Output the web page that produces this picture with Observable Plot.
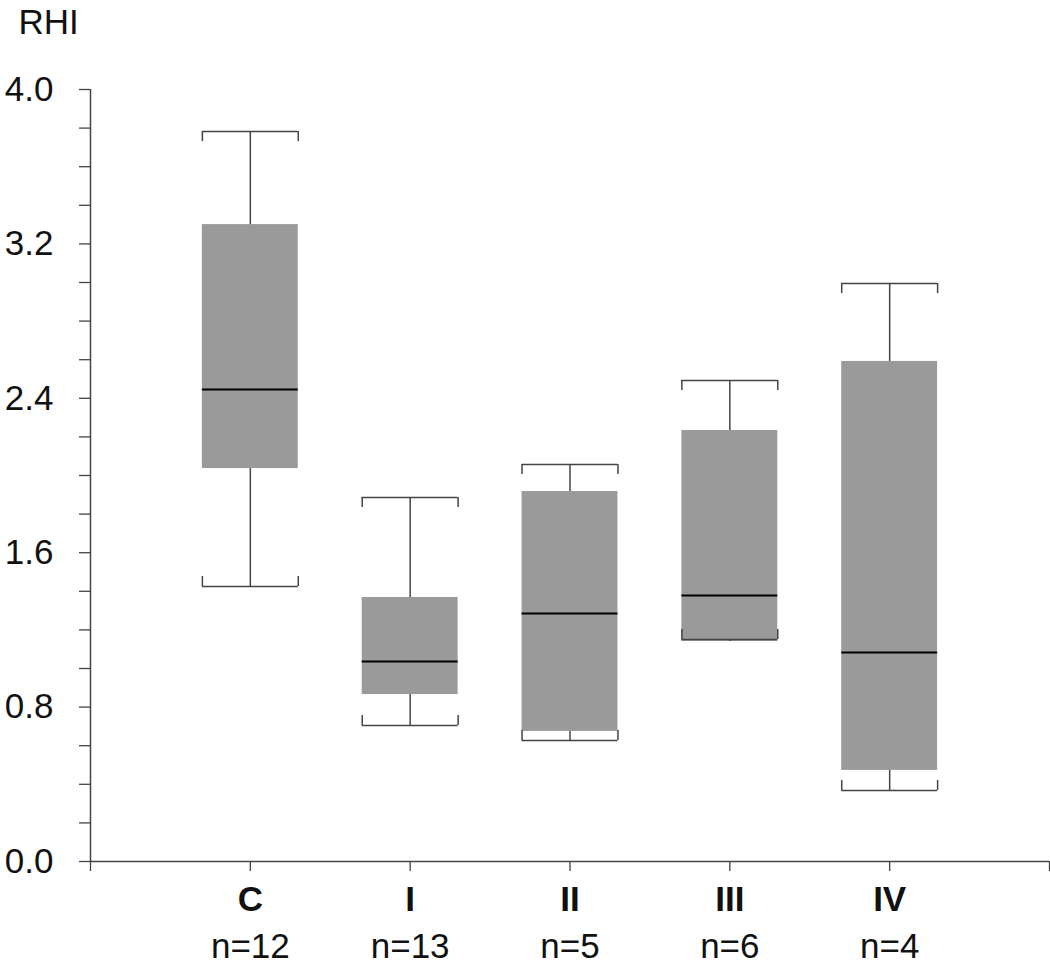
<!DOCTYPE html>
<html><head><meta charset="utf-8">
<script src="https://cdn.jsdelivr.net/npm/d3@7"></script>
<script src="https://cdn.jsdelivr.net/npm/@observablehq/plot@0.6"></script>
<style>body{margin:0;background:#fff}</style>
</head><body><div id="chart"></div>
<script>
const groups = ["C", "I", "II", "III", "IV"];
const counts = ["n=12", "n=13", "n=5", "n=6", "n=4"];
const positions = [1, 2, 3, 4, 5];
const whiskerLow = [1.425, 0.705, 0.627, 1.15, 0.368];
const q1 = [2.036, 0.865, 0.674, 1.14, 0.472];
const median = [2.446, 1.036, 1.285, 1.378, 1.083];
const q3 = [3.30, 1.368, 1.917, 2.233, 2.591];
const whiskerHigh = [3.782, 1.886, 2.057, 2.492, 2.995];
const yTicks = [0, 0.2, 0.4, 0.6, 0.8, 1.0, 1.2, 1.4, 1.6, 1.8, 2.0, 2.2, 2.4, 2.6, 2.8, 3.0, 3.2, 3.4, 3.6, 3.8, 4.0];
const yLabels = [0, 0.8, 1.6, 2.4, 3.2, 4.0];
const xTicks = [0, 1, 2, 3, 4, 5, 6];

const data = groups.map((g, i) => ({
  g, n: counts[i], x: positions[i],
  lo: whiskerLow[i], q1: q1[i], med: median[i], q3: q3[i], hi: whiskerHigh[i]
}));

const half = 0.3;     // half box width (x units)
const capLen = 0.052; // cap tick length (y units)
const lineColor = "#444";
const font = "'Liberation Sans', Arial, Helvetica, sans-serif";
const fs = 35;

const isLabel = d => yLabels.some(v => Math.abs(v - d) < 1e-6);

const chart = Plot.plot({
  width: 1050,
  height: 966,
  marginLeft: 90,
  marginRight: 1,
  marginTop: 89,
  marginBottom: 105,
  style: {fontFamily: font, background: "#fff", color: "#111", overflow: "visible"},
  x: {domain: [0, 6], axis: null},
  y: {domain: [0, 4], axis: null},
  marks: [
    // axes
    Plot.axisY({ticks: yTicks, tickSize: 11, tickPadding: 26, fontSize: fs,
      tickFormat: d => isLabel(d) ? d.toFixed(1) : "", stroke: lineColor, strokeWidth: 1.3,
      label: null}),
    Plot.axisX({ticks: xTicks, tickSize: 10, tickFormat: () => "", stroke: lineColor,
      strokeWidth: 1.3, label: null}),
    Plot.ruleX([0], {y1: 0, y2: 4, stroke: lineColor, strokeWidth: 1.5}),
    Plot.ruleY([0], {x1: 0, x2: 6, stroke: lineColor, strokeWidth: 1.5}),
    // boxes
    Plot.rect(data, {x1: d => d.x - half, x2: d => d.x + half, y1: "q1", y2: "q3", fill: "#9a9a9a"}),
    // whiskers
    Plot.ruleX(data, {x: "x", y1: "q3", y2: "hi", stroke: lineColor, strokeWidth: 1.5}),
    Plot.ruleX(data, {x: "x", y1: "lo", y2: "q1", stroke: lineColor, strokeWidth: 1.5}),
    // caps
    Plot.ruleY(data, {y: "hi", x1: d => d.x - half, x2: d => d.x + half, stroke: lineColor, strokeWidth: 1.5}),
    Plot.ruleY(data, {y: "lo", x1: d => d.x - half, x2: d => d.x + half, stroke: lineColor, strokeWidth: 1.5}),
    Plot.ruleX(data, {x: d => d.x - half, y1: "hi", y2: d => d.hi - capLen, stroke: lineColor, strokeWidth: 1.5}),
    Plot.ruleX(data, {x: d => d.x + half, y1: "hi", y2: d => d.hi - capLen, stroke: lineColor, strokeWidth: 1.5}),
    Plot.ruleX(data, {x: d => d.x - half, y1: "lo", y2: d => d.lo + capLen, stroke: lineColor, strokeWidth: 1.5}),
    Plot.ruleX(data, {x: d => d.x + half, y1: "lo", y2: d => d.lo + capLen, stroke: lineColor, strokeWidth: 1.5}),
    // medians
    Plot.ruleY(data, {y: "med", x1: d => d.x - half, x2: d => d.x + half, stroke: "#000", strokeWidth: 2}),
    // category labels
    Plot.text(data, {x: "x", text: "g", frameAnchor: "bottom", lineAnchor: "bottom", dy: 49,
      fontSize: fs, fontWeight: "bold", fill: "#111"}),
    Plot.text(data, {x: "x", text: "n", frameAnchor: "bottom", lineAnchor: "bottom", dy: 96,
      fontSize: fs, fill: "#111"}),
    // y title
    Plot.text(["RHI"], {frameAnchor: "top-left", textAnchor: "start", lineAnchor: "bottom",
      dx: -72, dy: -56, fontSize: fs, fill: "#111"})
  ]
});
document.getElementById("chart").appendChild(chart);
</script>
</body></html>
